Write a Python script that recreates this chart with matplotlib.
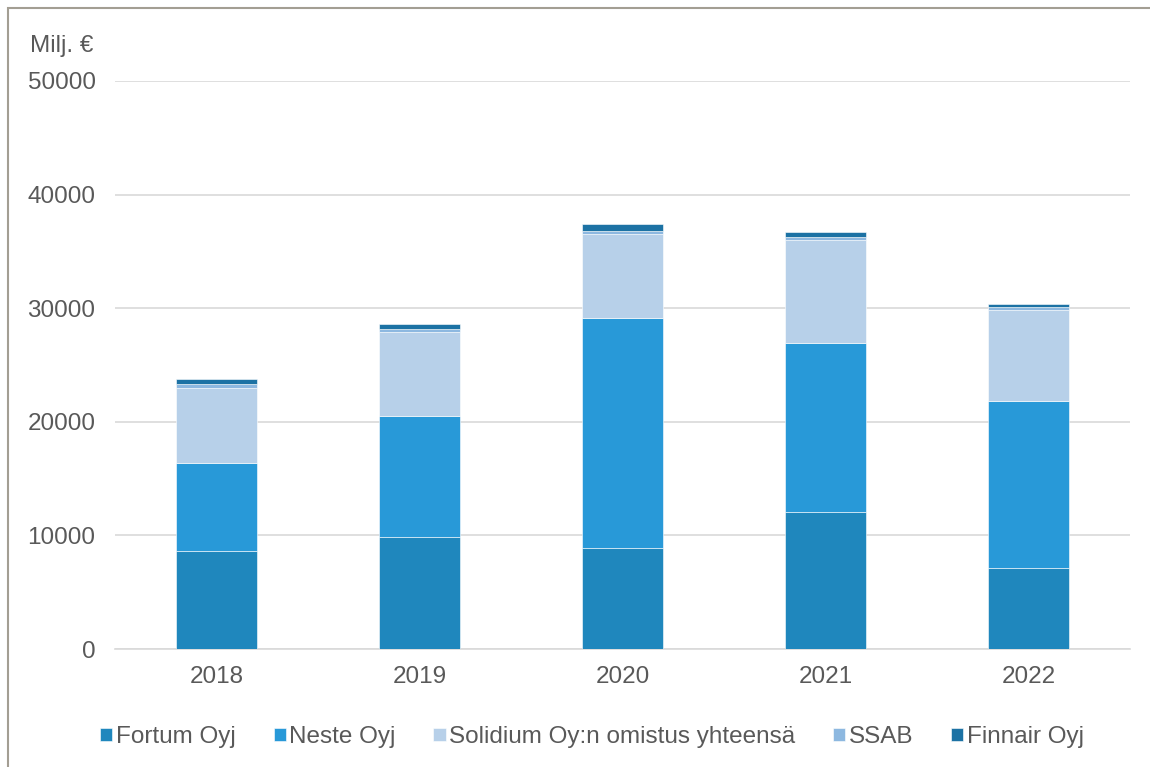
import matplotlib.pyplot as plt
import numpy as np
from matplotlib.patches import Rectangle

plt.rcParams['font.family'] = ['Liberation Sans', 'DejaVu Sans']

years = ['2018', '2019', '2020', '2021', '2022']
fortum = [8600, 9900, 8900, 12100, 7100]
neste = [7780, 10600, 20200, 14870, 14750]
solidium = [6600, 7400, 7400, 9050, 8000]
ssab = [380, 300, 330, 265, 290]
finnair = [450, 420, 540, 450, 270]

series = [
    ('Fortum Oyj', fortum, '#1F87BD'),
    ('Neste Oyj', neste, '#2899D8'),
    ('Solidium Oy:n omistus yhteensä', solidium, '#B7D0E9'),
    ('SSAB', ssab, '#8DB8E0'),
    ('Finnair Oyj', finnair, '#1C72A4'),
]

fig = plt.figure(figsize=(11.5, 7.67), dpi=100)
ax = fig.add_axes([0.1, 0.1538, 0.8826, 0.7406])

x = np.arange(len(years))
bottom = np.zeros(len(years))
for label, vals, color in series:
    ax.bar(x, vals, width=0.4, bottom=bottom, color=color, label=label,
           edgecolor='white', linewidth=0.4, zorder=3)
    bottom += np.array(vals)

ax.set_ylim(0, 50000)
ax.set_xlim(-0.5, len(years) - 0.5)
ax.set_yticks(range(0, 50001, 10000))
ax.set_xticks(x)
ax.set_xticklabels(years)
ax.grid(axis='y', color='#D9D9D9', linewidth=1.2, zorder=0)
for s in ['top', 'right', 'left']:
    ax.spines[s].set_visible(False)
ax.spines['bottom'].set_color('#D9D9D9')
ax.spines['bottom'].set_linewidth(1.2)
ax.tick_params(axis='both', length=0, labelsize=17.5, colors='#595959')
ax.tick_params(axis='y', pad=14)
ax.tick_params(axis='x', pad=12)

fig.text(0.026, 0.94, 'Milj. €', fontsize=17.5, color='#595959', va='center')

leg = ax.legend(loc='center', bbox_to_anchor=(0.47, -0.155), ncol=5, frameon=False,
                fontsize=17.5, handlelength=0.5, handleheight=0.5, handletextpad=0.15,
                columnspacing=1.55)
for t in leg.get_texts():
    t.set_color('#595959')

fig.patches.append(Rectangle((0.007, -0.01), 1.1, 1.0, transform=fig.transFigure,
                             fill=False, edgecolor='#A39E93', linewidth=1.5))

fig.savefig('out.png', dpi=100)
